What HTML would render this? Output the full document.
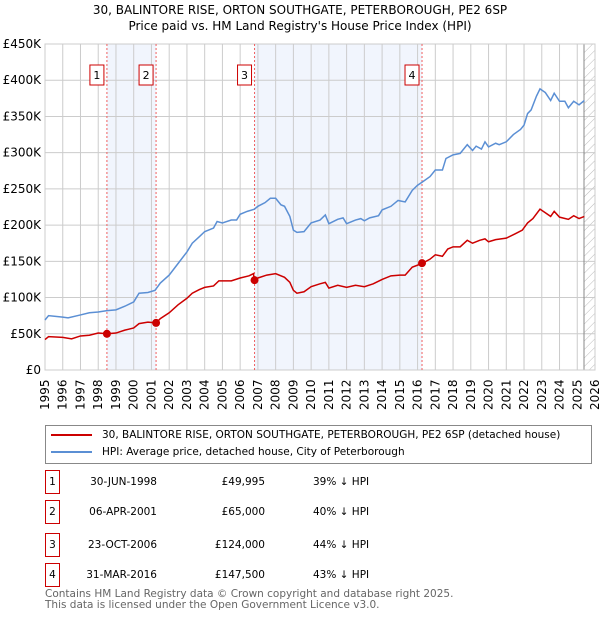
<!DOCTYPE html>
<html><head><meta charset="utf-8"><style>
body{margin:0;background:#fff;font-family:"DejaVu Sans","Liberation Sans",sans-serif;}
#wrap{position:relative;width:600px;height:620px;overflow:hidden}
.t{position:absolute;font-size:12px;color:#000}
svg text{font-family:"DejaVu Sans","Liberation Sans",sans-serif}
</style></head><body><div id="wrap">
<svg id="chart" width="600" height="420" style="position:absolute;left:0;top:0"></svg>
<div style="position:absolute;left:45px;top:425px;width:545px;height:37px;border:1px solid #888;font-size:10.5px">
<div style="position:absolute;left:5px;top:3px;white-space:nowrap"><span style="display:inline-block;width:41px;height:2px;background:#cc0000;vertical-align:middle;margin-right:10px"></span>30, BALINTORE RISE, ORTON SOUTHGATE, PETERBOROUGH, PE2 6SP (detached house)</div>
<div style="position:absolute;left:5px;top:20px;white-space:nowrap"><span style="display:inline-block;width:41px;height:2px;background:#5b8fd4;vertical-align:middle;margin-right:10px"></span>HPI: Average price, detached house, City of Peterborough</div>
</div>
<div id="table"></div>
<div class="t" style="left:45px;top:589px;font-size:10.5px;color:#666;line-height:11px">Contains HM Land Registry data © Crown copyright and database right 2025.<br>This data is licensed under the Open Government Licence v3.0.</div>
</div>
<script>
const hpiYears=[1995,1995.2,1996,1996.3,1997,1997.5,1998,1998.5,1999,1999.5,2000,2000.3,2000.8,2001.2,2001.5,2002,2002.5,2003,2003.3,2003.7,2004,2004.5,2004.7,2005,2005.5,2005.8,2006,2006.4,2006.8,2007,2007.4,2007.7,2008,2008.3,2008.5,2008.8,2009,2009.2,2009.6,2010,2010.5,2010.8,2011,2011.5,2011.8,2012,2012.5,2012.8,2013,2013.3,2013.8,2014,2014.5,2014.9,2015.3,2015.7,2016,2016.3,2016.7,2017,2017.4,2017.6,2018,2018.4,2018.8,2019.1,2019.3,2019.6,2019.8,2020,2020.4,2020.6,2021,2021.4,2021.8,2022,2022.2,2022.4,2022.7,2022.9,2023.2,2023.5,2023.7,2024,2024.3,2024.5,2024.8,2025.1,2025.4];
const hpiValues=[69,75,73,72,76,79,80,82,83,88,94,106,107,110,120,131,147,163,175,184,191,196,205,203,207,207,215,219,222,226,231,237,237,228,226,212,193,190,191,203,207,214,202,208,210,202,207,209,206,210,213,221,226,234,232,248,255,260,267,276,276,292,297,299,311,303,309,305,315,308,313,311,315,325,332,338,354,359,378,388,383,372,382,371,371,362,371,366,372];
const propYears=[1995,1995.2,1996,1996.5,1997,1997.5,1998,1998.5,1999,1999.5,2000,2000.3,2000.8,2001.26,2001.5,2002,2002.5,2003,2003.3,2003.7,2004,2004.5,2004.8,2005,2005.5,2006,2006.5,2006.75,2006.8,2007,2007.5,2008,2008.5,2008.8,2009,2009.2,2009.6,2010,2010.5,2010.8,2011,2011.5,2012,2012.5,2013,2013.5,2014,2014.5,2015,2015.3,2015.7,2016.25,2016.7,2017,2017.4,2017.7,2018,2018.4,2018.8,2019.1,2019.5,2019.8,2020,2020.4,2021,2021.5,2021.9,2022.2,2022.5,2022.9,2023.2,2023.5,2023.7,2024,2024.5,2024.8,2025.1,2025.4];
const propValues=[42,46,45,43,47,48,51,50,51,55,58,64,66,65,71,79,90,99,106,111,114,116,123,123,123,127,130,133,124,127,131,133,128,121,110,106,108,115,119,121,113,117,114,117,115,119,125,130,131,131,142,147,153,159,157,167,170,170,179,175,179,181,177,180,182,188,193,203,209,222,217,212,219,211,208,213,209,212];
const saleLabels=["1","2","3","4"];
const saleYears=[1998.49,2001.26,2006.81,2016.25];
const salePrices=[49995,65000,124000,147500];
const saleDates=["30-JUN-1998","06-APR-2001","23-OCT-2006","31-MAR-2016"];
const salePriceText=["£49,995","£65,000","£124,000","£147,500"];
const salePct=["39% ↓ HPI","40% ↓ HPI","44% ↓ HPI","43% ↓ HPI"];
const yTicks=[0,50,100,150,200,250,300,350,400,450];
const yTickLabels=["£0","£50K","£100K","£150K","£200K","£250K","£300K","£350K","£400K","£450K"];
const xTicks=[1995,1996,1997,1998,1999,2000,2001,2002,2003,2004,2005,2006,2007,2008,2009,2010,2011,2012,2013,2014,2015,2016,2017,2018,2019,2020,2021,2022,2023,2024,2025,2026];
const dataEnd=2025.38;

const L=45,R=595,T=44,B=370;
const xs=y=>L+(y-1995)/31*(R-L);
const ys=v=>B-v/450*(B-T);
const NS="http://www.w3.org/2000/svg";
const svg=document.getElementById('chart');
function mk(tag,attrs,parent){const e=document.createElementNS(NS,tag);for(const k in attrs)e.setAttribute(k,attrs[k]);(parent||svg).appendChild(e);return e;}

let e;
e=mk('text',{x:300,y:14,'text-anchor':'middle','font-size':12});e.textContent="30, BALINTORE RISE, ORTON SOUTHGATE, PETERBOROUGH, PE2 6SP";


e=mk('text',{x:300,y:30,'text-anchor':'middle','font-size':12});e.textContent="Price paid vs. HM Land Registry's House Price Index (HPI)";



for(let i=0;i<saleYears.length;i+=2){
  e=mk('rect',{x:xs(saleYears[i]),y:T,width:xs(saleYears[i+1])-xs(saleYears[i]),height:B-T,fill:'#eef3fc',opacity:0.8});
  
  
}
const defs=mk('defs',{});
const pat=mk('pattern',{id:'h',width:6,height:6,patternUnits:'userSpaceOnUse',patternTransform:'rotate(45)'},defs);
mk('line',{x1:0,y1:0,x2:0,y2:6,stroke:'#bbb','stroke-width':1},pat);
e=mk('rect',{x:xs(dataEnd),y:T,width:R-xs(dataEnd),height:B-T,fill:'url(#h)'});


yTicks.forEach((v,i)=>{
  e=mk('line',{x1:L,x2:R,y1:ys(v),y2:ys(v),stroke:'#ccc','stroke-width':1});
  
  
  e=mk('text',{x:L-4,y:ys(v)+4,'text-anchor':'end','font-size':12});e.textContent=yTickLabels[i];
  
  
});
xTicks.forEach(y=>{
  e=mk('line',{x1:xs(y),x2:xs(y),y1:T,y2:B,stroke:'#ccc','stroke-width':1});
  
  
  e=mk('text',{x:0,y:0,transform:`translate(${xs(y)+4},${B+40}) rotate(-90)`,'font-size':12});e.textContent=y;
  
  
});
e=mk('line',{x1:xs(dataEnd),x2:xs(dataEnd),y1:T,y2:B,stroke:'#888','stroke-width':1});


e=mk('rect',{x:L,y:T,width:R-L,height:B-T,fill:'none',stroke:'#ccc'});


saleYears.forEach((y,i)=>{
  e=mk('line',{x1:xs(y),x2:xs(y),y1:T,y2:B,stroke:'#f06060','stroke-width':1,'stroke-dasharray':'2,2'});
  
  
});
e=mk('polyline',{points:hpiYears.map((y,i)=>xs(y)+','+ys(hpiValues[i])).join(' '),fill:'none',stroke:'#5b8fd4','stroke-width':1.5});


e=mk('polyline',{points:propYears.map((y,i)=>xs(y)+','+ys(propValues[i])).join(' '),fill:'none',stroke:'#cc0000','stroke-width':1.5});


saleYears.forEach((y,i)=>{
  e=mk('circle',{cx:xs(y),cy:ys(salePrices[i]/1000),r:4,fill:'#cc0000'});
  
  
  const g=mk('g',{});
  mk('rect',{x:xs(y)-17,y:65,width:14,height:20,fill:'#fff',stroke:'#cc0000'},g);
  const t=mk('text',{x:xs(y)-10,y:79,'text-anchor':'middle','font-size':11},g);t.textContent=saleLabels[i];
  
  
});
const tb=document.getElementById('table');
const rowY=[482,512,545,575];
saleDates.forEach((d,i)=>{
  const r=document.createElement('div');
  
  
  r.style.cssText=`position:absolute;left:0;top:${rowY[i]-12}px;width:600px;height:24px;font-size:10.5px`;
  r.innerHTML=`<div style="position:absolute;left:45px;top:0;width:13px;height:22px;border:1px solid #cc0000;text-align:center;line-height:22px">${saleLabels[i]}</div>`+
  `<div style="position:absolute;left:60px;width:97px;text-align:right;line-height:24px">${d}</div>`+
  `<div style="position:absolute;left:170px;width:95px;text-align:right;line-height:24px">${salePriceText[i]}</div>`+
  `<div style="position:absolute;left:313px;line-height:24px">${salePct[i]}</div>`;
  tb.appendChild(r);
});
</script></body></html>
